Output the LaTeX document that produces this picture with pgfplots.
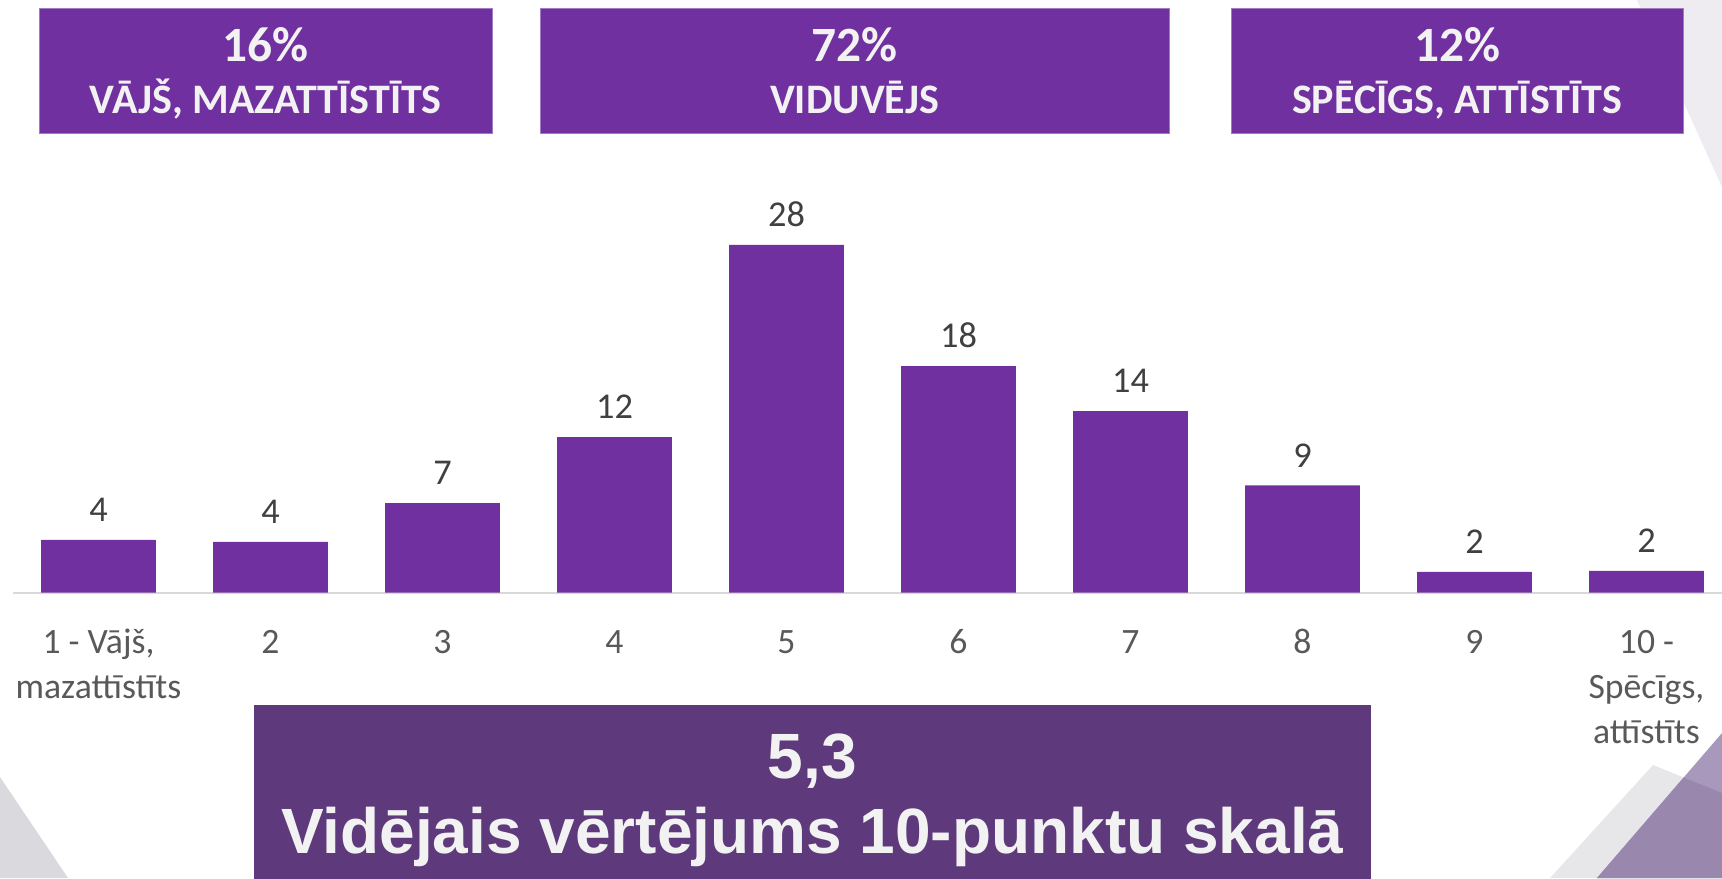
\documentclass[border=0pt]{standalone}
\usepackage{fontspec}
\setmainfont{Carlito}
\newfontfamily\arialfont{Liberation Sans}
\usepackage{pgfplots}
\pgfplotsset{compat=1.18}
\definecolor{barPurple}{HTML}{7030A0}
\definecolor{boxEdge}{HTML}{9E7BC2}
\definecolor{bottomPurple}{HTML}{5E397B}
\definecolor{boxText}{HTML}{F2F2F2}
\definecolor{tickGray}{HTML}{595959}
\definecolor{labelGray}{HTML}{404040}
\definecolor{axisGray}{HTML}{D9D9D9}
\definecolor{decoGrayA}{HTML}{D9D9DE}
\definecolor{decoGrayB}{HTML}{E7E7EA}
\definecolor{decoPurpleA}{HTML}{A898BB}
\definecolor{decoPurpleB}{HTML}{9A87AD}
\definecolor{decoTop}{HTML}{EEECF1}
\begin{document}
\begin{tikzpicture}
\useasboundingbox (0pt,0pt) rectangle (516.6pt,263.4pt);
\clip (0pt,0pt) rectangle (516.6pt,263.4pt);
% background decorations
\fill[decoTop] (491.1pt,263.4pt) -- (516.6pt,263.4pt) -- (516.6pt,207.3pt) -- cycle;
\fill[decoGrayA] (0pt,30.3pt) -- (20.4pt,0pt) -- (0pt,0pt) -- cycle;
\fill[decoGrayB] (465pt,0pt) -- (495.9pt,33.9pt) -- (516.6pt,25.5pt) -- (516.6pt,0pt) -- cycle;
\fill[decoPurpleA] (479.1pt,0pt) -- (516.6pt,43.5pt) -- (516.6pt,0pt) -- cycle;
\fill[decoPurpleB] (479.1pt,0pt) -- (505.1pt,30.15pt) -- (516.6pt,25.5pt) -- (516.6pt,0pt) -- cycle;
% top boxes
\filldraw[fill=barPurple, draw=boxEdge, line width=0.3pt] (11.7pt,223.5pt) rectangle (147.75pt,260.9pt);
\filldraw[fill=barPurple, draw=boxEdge, line width=0.3pt] (162pt,223.5pt) rectangle (350.9pt,260.9pt);
\filldraw[fill=barPurple, draw=boxEdge, line width=0.3pt] (369.3pt,223.5pt) rectangle (505.05pt,260.9pt);
\begin{scope}[every node/.style={anchor=base, inner sep=0pt, text=boxText}]
\node[font=\bfseries\fontsize{14.8}{17}\selectfont] at (79.7pt,244.9pt) {16\%};
\node[font=\bfseries\fontsize{12.6}{14}\selectfont] at (79.7pt,229.5pt) {VĀJŠ, MAZATTĪSTĪTS};
\node[font=\bfseries\fontsize{14.8}{17}\selectfont] at (256.4pt,244.9pt) {72\%};
\node[font=\bfseries\fontsize{12.6}{14}\selectfont] at (256.4pt,229.5pt) {VIDUVĒJS};
\node[font=\bfseries\fontsize{14.8}{17}\selectfont] at (437.1pt,244.9pt) {12\%};
\node[font=\bfseries\fontsize{12.6}{14}\selectfont] at (437.1pt,229.5pt) {SPĒCĪGS, ATTĪSTĪTS};
\end{scope}
% bottom box
\fill[bottomPurple] (76.3pt,-1pt) rectangle (411.2pt,51.9pt);
\node[anchor=base, inner sep=0pt, text=boxText, font=\arialfont\bfseries\fontsize{19.2}{23}\selectfont] at (243.7pt,30pt) {5,3};
\node[anchor=base, inner sep=0pt, text=boxText, font=\arialfont\bfseries\fontsize{19.2}{23}\selectfont] at (243.7pt,7.5pt) {Vidējais vērtējums 10-punktu skalā};
% chart
\begin{axis}[
  at={(3.75pt,85.65pt)}, anchor=south west,
  scale only axis, width=516pt, height=112.95pt,
  xmin=0.5, xmax=10.5, ymin=0, ymax=30,
  axis x line*=bottom, axis y line=none,
  x axis line style={draw=axisGray, line width=0.6pt, -},
  xtick={1,2,3,4,5,6,7,8,9,10},
  xticklabels={{1 - Vājš,\\mazattīstīts},2,3,4,5,6,7,8,9,{10 -\\Spēcīgs,\\attīstīts}},
  major tick length=0pt,
  xtick style={draw=none},
  typeset ticklabels with strut,
  xticklabel style={align=center, anchor=north, inner sep=0pt, yshift=-8.7pt, text=tickGray, font=\fontsize{10.7}{13.5}\selectfont},
  ybar, bar width=0.666,
  point meta=explicit symbolic,
  nodes near coords,
  every node near coord/.append style={anchor=base, yshift=5.5pt, inner sep=0pt, text=labelGray, font=\fontsize{10.9}{13}\selectfont},
  clip=false,
]
\addplot[fill=barPurple, draw=none] coordinates {
  (1,4.20) [4]
  (2,4.04) [4]
  (3,7.12) [7]
  (4,12.39) [12]
  (5,27.70) [28]
  (6,18.03) [18]
  (7,14.45) [14]
  (8,8.53) [9]
  (9,1.65) [2]
  (10,1.73) [2]
};
\end{axis}
\end{tikzpicture}
\end{document}
